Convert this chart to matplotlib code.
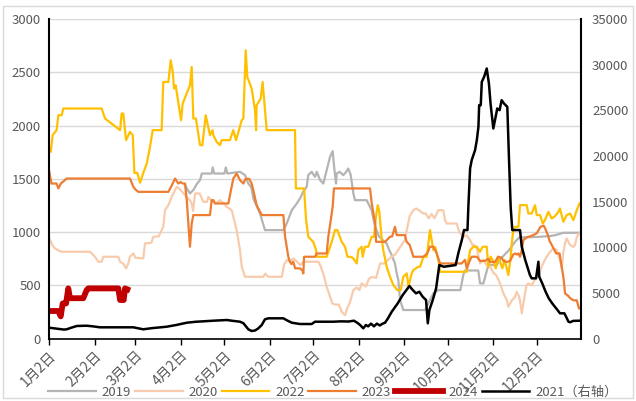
import matplotlib
matplotlib.use("Agg")
import matplotlib.pyplot as plt
from matplotlib.patches import Rectangle

plt.rcParams['font.family'] = ['Noto Sans CJK SC', 'DejaVu Sans']

# x positions are day offsets from 1月2日
tick_days = [0, 31, 59, 90, 120, 151, 181, 212, 243, 273, 304, 334]
tick_labels = ["1月2日", "2月2日", "3月2日", "4月2日", "5月2日", "6月2日",
               "7月2日", "8月2日", "9月2日", "10月2日", "11月2日", "12月2日"]

d2019 = [93, 94.2, 96.4, 99, 101, 103.3, 104.5, 111.3, 112, 113, 120, 121, 122, 130.7, 134.1, 136.4,
         138.5, 139.8, 142, 144.4, 147.8, 160.4, 162.7, 166.2, 169.6, 172, 174, 176.4, 177.5, 179.8,
         182.1, 183.3, 185.6, 187.8, 190.1, 192.4, 194.2, 195.3, 196.5, 197, 199, 201.5, 203.5, 204.9,
         206.5, 208.4, 209.5, 217.5, 220.9, 223.3, 226, 229, 231.2, 233, 234.7, 236.9, 238, 239.2,
         240.4, 242.6, 257.5, 263.2, 266.6, 281.7, 283.8, 284.9, 294, 295.2, 297.5, 300.9, 306.6,
         310, 315, 319.2, 322, 335, 343, 347, 352.3, 364]
v2019 = [1450, 1410, 1363, 1400, 1450, 1488, 1550, 1550, 1607, 1550, 1550, 1607, 1550, 1566, 1535, 1456,
         1420, 1316, 1250, 1175, 1019, 1019, 1081, 1206, 1269, 1320, 1380, 1425, 1535, 1566,
         1519, 1566, 1488, 1456, 1581, 1706, 1760, 1600, 1456, 1550, 1566, 1535, 1566, 1597,
         1540, 1363, 1300, 1300, 1206, 1050, 960, 920, 894, 830, 784, 706, 620, 550,
         363, 269, 269, 425, 456, 456, 600, 640, 640, 519, 519, 691, 691,
         760, 830, 909, 950, 955, 963, 972, 994, 994]

d2020 = [0, 2, 3.9, 6, 8.5, 27.9, 31.3, 33.6, 35.9, 37, 47.3, 48.5, 51, 52.6, 54, 55.3, 57.6, 59, 64.4,
         65.6, 70, 71.3, 75, 78.1, 79.3, 81.6, 83.9, 86.2, 87.3, 89, 91, 94, 96.4, 97.6, 98.5, 99.9,
         103, 105.6, 108, 109, 111, 114, 117, 121.6, 125, 128.4, 130.7, 131.9, 134.1, 146.7, 148,
         150.1, 159.3, 161, 163, 165, 167.2, 170, 172, 174, 176.4, 184.4, 186, 188, 190.1, 192.4, 194,
         196, 198.5, 200.4, 202.7, 204, 206, 208.4, 210.7, 212.5, 214.1, 217, 219, 221, 224, 226.7,
         230, 232, 234.7, 237, 240, 243.7, 245, 247, 249.5, 251.5, 256.4, 258, 260, 262, 264, 266.6,
         270, 271.2, 272.4, 279.2, 281, 283.8, 286, 288.4, 290, 291, 293, 295.2, 297.5, 299.8, 302,
         304.3, 306.6, 308.9, 311.2, 313.5, 314.6, 317, 319.2, 320.3, 321.5, 322.6, 323.8, 326, 327,
         328.3, 330.6, 333, 335.2, 337.5, 339.7, 340.9, 343, 345.4, 347.7, 350, 351.2, 352.3, 353.5,
         354.6, 356.9, 359.2, 360.3, 361.5, 363.2]
v2020 = [941, 880, 847, 830, 816, 816, 769, 722, 722, 769, 769, 722, 700, 660, 700, 769, 800, 760, 753,
         894, 900, 956, 960, 1050, 1206, 1253, 1331, 1394, 1425, 1410, 1380, 1330, 1300, 1269, 1200, 1363,
         1363, 1284, 1284, 1330, 1300, 1269, 1300, 1238, 1206, 1019, 831, 675, 581, 581, 610,
         581, 581, 700, 740, 722, 753, 720, 690, 720, 722, 722, 680, 600, 488, 394, 330,
         320, 320, 253, 222, 280, 340, 456, 480, 456, 519, 490, 560, 580, 570, 706,
         706, 740, 769, 790, 850, 925, 1019, 1150, 1206, 1222, 1175, 1175, 1130, 1170, 1130, 1206,
         1206, 1113, 1081, 1081, 1000, 956, 970, 925, 880, 880, 850, 706, 740, 690, 680,
         620, 590, 519, 425, 363, 300, 360, 390, 440, 410, 360, 238, 420, 500,
         519, 500, 560, 597, 680, 740, 769, 810, 850, 831, 740, 660, 810, 900,
         941, 880, 860, 880, 956, 988]

d2022 = [0, 1, 2.3, 5, 6.2, 8.5, 9.6, 35.9, 38.2, 48.5, 49.6, 50.7, 52.6, 55.3, 57.2, 58.3, 60.3, 62.2,
         64.4, 66.8, 69, 70.9, 77, 78.1, 81.6, 83.2, 84.6, 85.5, 86.6, 90.3, 91.4, 96.4, 97.6, 98.7,
         100.5, 103.3, 104.9, 107.2, 110.1, 111.9, 112.4, 114.7, 117, 118.1, 123.8, 126.1, 128, 131.9,
         133, 134.6, 135.7, 138.7, 141, 141.7, 142.1, 144.9, 146.2, 149, 168.4, 169, 174.6, 176, 177.5,
         180.9, 182.8, 183.3, 190.1, 193.6, 195.8, 197.4, 200.4, 202.7, 204.3, 206.1, 208, 210.7, 211.8,
         214.1, 214.8, 216.3, 218.6, 220.9, 222.5, 223.9, 225.1, 226.2, 227.8, 228.9, 231.2, 233.5,
         235.8, 238.5, 240.8, 242.6, 245, 246.1, 248.4, 249.5, 252.9, 254.1, 256.4, 258.7, 260.9,
         263.2, 264.5, 266.6, 267.8, 286.1, 287.2, 288.4, 290.6, 293, 295.2, 297, 299.8, 300.9, 302.5,
         304.5, 306, 307.5, 309, 310.5, 312, 313.5, 314.6, 316, 317, 318, 319.2, 321.5, 322.6, 327.2,
         328.3, 330.6, 332.9, 334.1, 336.4, 338.2, 339.7, 342, 344.3, 346.6, 348.9, 350, 352.3, 354.6,
         356.9, 359.2, 361.5, 363.4]
v2022 = [1800, 1753, 1910, 1957, 2097, 2097, 2160, 2160, 2066, 1957, 2113, 2113, 1863, 1941, 1910, 1556, 1556, 1463,
         1556, 1644, 1800, 1957, 1957, 2409, 2409, 2613, 2503, 2347, 2378, 2050, 2206, 2378, 2550, 2066,
         2066, 1816, 1816, 2097, 1910, 1957, 1910, 1847, 1816, 1863, 1863, 1957, 1863, 2050,
         2066, 2706, 2456, 2347, 2144, 1957, 2191, 2253, 2409, 1957, 1957, 1410, 1410, 1113, 956,
         909, 831, 769, 769, 909, 1019, 1019, 909, 863, 769, 769, 760, 706, 831,
         863, 769, 863, 863, 956, 956, 1144, 1253, 1191, 941, 831, 675, 581,
         503, 456, 456, 581, 613, 488, 613, 644, 675, 675, 769, 769, 1019,
         831, 860, 738, 628, 628, 738, 831, 863, 863, 816, 863, 863, 675, 770,
         720, 660, 770, 720, 660, 740, 660, 597, 740, 900, 1019, 1050, 1050, 1253, 1253,
         1175, 1175, 1253, 1160, 1160, 1081, 1113, 1191, 1128, 1150, 1190, 1222, 1097, 1160,
         1175, 1113, 1206, 1269]

d2023 = [0, 1.5, 5, 6.2, 7.9, 10, 11.9, 55.3, 57.6, 59, 61, 81.6, 84, 86.2, 88.4, 90, 91.5, 93, 94.2,
         96.4, 97.6, 98.7, 110.1, 111.3, 112.4, 113.6, 122.7, 126.1, 128.4, 130.7, 133, 134.5, 137,
         138.7, 139.8, 142.1, 145.6, 160.4, 161.6, 163.8, 165, 166, 167.2, 168.5, 171.8, 173.5, 174.1,
         174.6, 182.1, 183.3, 190.1, 191.2, 192.4, 194.2, 195.1, 219.8, 221, 223.3, 224, 230.1, 233.5,
         235, 236.9, 238.1, 243.7, 244.9, 247, 249.5, 256.4, 259, 260.9, 263.2, 264.5, 265.5, 267.8,
         280.3, 282.6, 284.9, 286.1, 288.4, 289.5, 293, 295.2, 298.6, 300.9, 302, 305.4, 307.7, 310,
         311.2, 313.5, 315.8, 318, 319.2, 320.3, 321.5, 322.6, 323.8, 324.9, 327.2, 331.7, 334.1,
         336.6, 338.9, 340, 341.7, 342.8, 345.1, 347.4, 349.7, 352.3, 353.5, 355.8, 357, 359.2,
         361.5, 363]
v2023 = [1566, 1456, 1456, 1410, 1456, 1480, 1503, 1503, 1425, 1400, 1378, 1378, 1440, 1503, 1456, 1470, 1456, 1456, 1300,
         863, 1081, 1160, 1160, 1300, 1300, 1269, 1269, 1503, 1550, 1488, 1456, 1500, 1500,
         1456, 1394, 1253, 1160, 1160, 956, 769, 720, 700, 722, 660, 660, 640, 613,
         769, 769, 800, 800, 956, 1066, 1238, 1410, 1410, 1269, 1081, 909, 909, 956,
         960, 1050, 972, 972, 909, 880, 769, 769, 800, 863, 863, 830, 800, 706,
         706, 706, 740, 660, 740, 769, 769, 730, 730, 750, 720, 720, 769, 760,
         730, 720, 730, 790, 800, 790, 800, 769, 830, 925, 950, 972, 990,
         1050, 1060, 1030, 972, 920, 860, 800, 800, 581, 425, 400, 380, 360,
         360, 285]

d2024 = [0, 6.2, 7.8, 9.2, 11.5, 13, 14.2, 23.3, 25.6, 26.7, 47.3, 48.5, 51, 51.9, 53.5]
v2024 = [260, 260, 210, 331, 331, 472, 380, 380, 456, 472, 472, 363, 363, 472, 463]

d2021 = [0, 5, 10, 11.9, 15, 18.8, 25.6, 30, 34.7, 57.6, 64.4, 70, 80.5, 87, 94.2, 100, 112.4, 121.6,
         126, 130.7, 133, 136.4, 138.7, 141, 143, 145.6, 147.8, 150.1, 160.4, 163, 166.2, 171.8,
         179.8, 182.1, 194.7, 200, 205, 208.8, 211, 213, 215.2, 217, 218.5, 220.5, 222.5, 224.5,
         226.5, 228.5, 230.1, 232, 234.7, 238.8, 242.2, 246.8, 249.1, 251.3, 253.6, 255.9, 258.2,
         259.4, 260.5, 262.8, 265.1, 267.3, 270.4, 278.5, 280.3, 283, 284.2, 286.6, 287.2, 288.4,
         289.5, 291.8, 293, 294.1, 294.6, 295.7, 296.4, 298, 299.8, 301.3, 302.4, 304.3, 305.9, 307,
         308.6, 310, 311.6, 313.9, 315, 316.2, 317.3, 322.6, 323.8, 326.2, 329.4, 330.6, 333.6,
         335.2, 335.8, 338, 340, 342.3, 345, 348, 350, 353, 354.5, 355.8, 357, 359, 363]
v2021 = [1203, 1100, 1000, 1028, 1200, 1390, 1422, 1350, 1247, 1247, 1028, 1150, 1313, 1500, 1750, 1850, 1969, 2046,
         1950, 1860, 1700, 1028, 842, 900, 1100, 1499, 2122, 2232, 2232, 2000, 1750, 1608,
         1608, 1860, 1860, 1900, 1880, 1969, 1750, 1500, 1138, 1500, 1350, 1650, 1350, 1650,
         1450, 1650, 1750, 2200, 2954, 3873, 4781, 5765, 5328, 4967, 5142, 4595, 4234,
         1685, 3140, 4234, 5514, 8063, 7877, 8063, 9343, 10984, 11892, 11892, 14441, 18642,
         19550, 20644, 21738, 23193, 25567, 25567, 28116, 28663, 29582, 27941, 25752, 23017, 24287, 25205,
         25020, 26114, 25752, 25380, 19911, 14441, 11892, 11892, 10065, 8610, 6969, 6608, 6608,
         8424, 6783, 6000, 5200, 4420, 3800, 3200, 2779, 2779, 2300, 1860, 1800, 1950, 1969]

fig = plt.figure(figsize=(6.36, 4.01), dpi=100)
fig.patches.append(Rectangle((3.5 / 636, 3 / 401), 629 / 636, 392 / 401, transform=fig.transFigure,
                             fill=False, edgecolor='#D9D9D9', linewidth=1))
ax = fig.add_axes([49.3 / 636, 62.3 / 401, (581 - 49.3) / 636, (338.7 - 19) / 401])
ax2 = ax.twinx()

l19, = ax.plot(d2019, v2019, color='#B4B4B4', lw=1.6, label='2019')
l20, = ax.plot(d2020, v2020, color='#F8CBAD', lw=1.6, label='2020')
l22, = ax.plot(d2022, v2022, color='#FFC000', lw=1.6, label='2022')
l23, = ax.plot(d2023, v2023, color='#ED7D31', lw=1.6, label='2023')
l24, = ax.plot(d2024, v2024, color='#C00000', lw=4.2, label='2024')
l21, = ax2.plot(d2021, v2021, color='black', lw=1.8, label='2021（右轴）')

ax.set_xlim(0, 364.4)
ax.set_ylim(0, 3000)
ax.set_yticks(range(0, 3001, 500))
ax2.set_ylim(0, 35000)
ax2.set_yticks(range(0, 35001, 5000))
ax.grid(axis='y', color='#D9D9D9', lw=1)
ax.set_axisbelow(True)

ax.set_xticks(tick_days)
ax.set_xticklabels(tick_labels, rotation=45, ha='right', va='top', rotation_mode='anchor')
ax.tick_params(axis='x', direction='out', length=4, width=1, color='black', pad=3,
               labelsize=10, labelcolor='#595959')
ax.tick_params(axis='y', length=0, labelsize=9.5, labelcolor='#595959', pad=6)
ax2.tick_params(axis='y', length=0, labelsize=9.5, labelcolor='#595959', pad=8)

for a in (ax, ax2):
    a.spines['top'].set_visible(False)
ax.spines['right'].set_visible(False)
ax.spines['left'].set_color('black')
ax.spines['left'].set_linewidth(1.5)
ax.spines['bottom'].set_color('black')
ax.spines['bottom'].set_linewidth(1.2)
ax2.spines['left'].set_visible(False)
ax2.spines['bottom'].set_visible(False)
ax2.spines['right'].set_color('black')
ax2.spines['right'].set_linewidth(1.5)

leg = fig.legend(handles=[l19, l20, l22, l23, l24, l21], loc='center', ncol=6,
                 bbox_to_anchor=(0.5236, 0.021), frameon=False, fontsize=9.5,
                 handlelength=3.6, handletextpad=0.45, columnspacing=0.3, borderpad=0)
for t in leg.get_texts():
    t.set_color('#595959')

fig.savefig('out.png', dpi=100)
